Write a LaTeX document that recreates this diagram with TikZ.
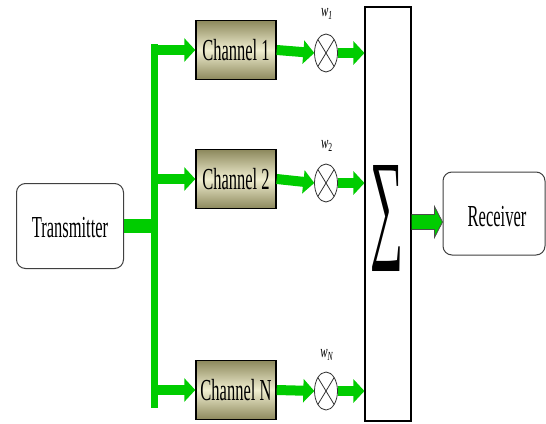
\documentclass[tikz,border=0pt]{standalone}
\usepackage{fontspec}
\setmainfont{Liberation Serif}
\usetikzlibrary{arrows.meta,shapes.geometric,calc}
\definecolor{grn}{RGB}{0,204,0}
\definecolor{khakiL}{RGB}{240,238,208}
\definecolor{khakiD}{RGB}{140,136,92}
\newcommand\vstretch[1]{\scalebox{1}[1.85]{#1}}
\newcommand\wstretch[1]{\scalebox{1}[1.6]{#1}}
\begin{document}
\begin{tikzpicture}[x=1pt,y=-1pt,
  txt/.style={font=\fontsize{16.5}{18}\selectfont, inner sep=0pt},
  chan/.style={draw=black, line width=1.4pt, minimum width=80pt, minimum height=59pt,
    top color=khakiD, bottom color=khakiD, middle color=khakiL, inner sep=0pt,
    font=\fontsize{16.5}{18}\selectfont},
  rbox/.style={draw=black!75, line width=1pt, rounded corners=9pt, fill=white, inner sep=0pt},
  mult/.style={rectangle, minimum width=23pt, minimum height=38pt, inner sep=0pt},
  garrow/.style={draw=grn, line width=10pt, -{Triangle[length=11pt,width=23pt]}},
  wlab/.style={inner sep=0pt, font=\fontsize{11}{12}\selectfont},
]
\useasboundingbox (0,0) rectangle (546,423);

% transmitter
\node[rbox, minimum width=107pt, minimum height=85pt] (tx) at (70,226) {};
\node[txt] (txt) at (70,228) {\vstretch{Transmitter}};

% trunk
\coordinate (tTop) at (154,44);
\coordinate (tBot) at (154,408);
\draw[grn, line width=7pt] (tTop) -- (tBot);
\draw[grn, line width=14pt] (tx.east) -- (tx.east -| tTop);

% channels
\node[chan] (ch1) at (236,50) {\vstretch{Channel 1}};
\node[chan] (ch2) at (236,179) {\vstretch{Channel 2}};
\node[chan] (chN) at (236,390) {\vstretch{Channel N}};

\draw[garrow] (ch1.west -| tTop) -- (ch1.west);
\draw[garrow] (ch2.west -| tTop) -- (ch2.west);
\draw[garrow] (chN.west -| tTop) -- (chN.west);

% sum box
\node[draw=black, line width=1.1pt, minimum width=46pt, minimum height=414pt, inner sep=0pt] (sum) at (388,214) {};
\node[inner sep=0pt] (sig) at (387,218) {\resizebox{33pt}{80pt}{∑}};

% multipliers
\foreach \n/\y in {1/53, 2/183, N/391} {
  \node[mult] (m\n) at (326,\y) {};
  \draw[black!80, line width=0.8pt, fill=white] (m\n.center) ellipse [x radius=11.5pt, y radius=19pt];
  \draw[black!80, line width=0.8pt]
    ($(m\n.center)+(-8.1,-13.4)$) -- ($(m\n.center)+(8.1,13.4)$)
    ($(m\n.center)+(8.1,-13.4)$) -- ($(m\n.center)+(-8.1,13.4)$);
}
\draw[garrow] (ch1.east) -- (m1.west);
\draw[garrow] (ch2.east) -- (m2.west);
\draw[garrow] (chN.east) -- (mN.west);
\draw[garrow] (m1.east) -- (m1.east -| sum.west);
\draw[garrow] (m2.east) -- (m2.east -| sum.west);
\draw[garrow] (mN.east) -- (mN.east -| sum.west);

\node[wlab] (w1) at (327,14) {\wstretch{\textit{w}\textsubscript{\textit{1}}}};
\node[wlab] (w2) at (327,146) {\wstretch{\textit{w}\textsubscript{2}}};
\node[wlab] (wN) at (327,355) {\wstretch{\textit{w}\textsubscript{\textit{N}}}};

% receiver
\node[rbox, minimum width=102pt, minimum height=83pt] (rx) at (494,213.5) {};
\node[txt] (rxt) at (497,217) {\vstretch{Receiver}};

% output arrow
\coordinate (ra) at (411.5,222);
\coordinate (rb) at (rx.west |- ra);
\draw[fill=grn, draw=black!70, line width=0.8pt]
  ($(ra)+(0,-7.5)$) -- ($(rb)+(-8,-7.5)$) -- ($(rb)+(-8,-15.5)$) -- (rb)
  -- ($(rb)+(-8,15.5)$) -- ($(rb)+(-8,7.5)$) -- ($(ra)+(0,7.5)$);
\end{tikzpicture}
\end{document}
